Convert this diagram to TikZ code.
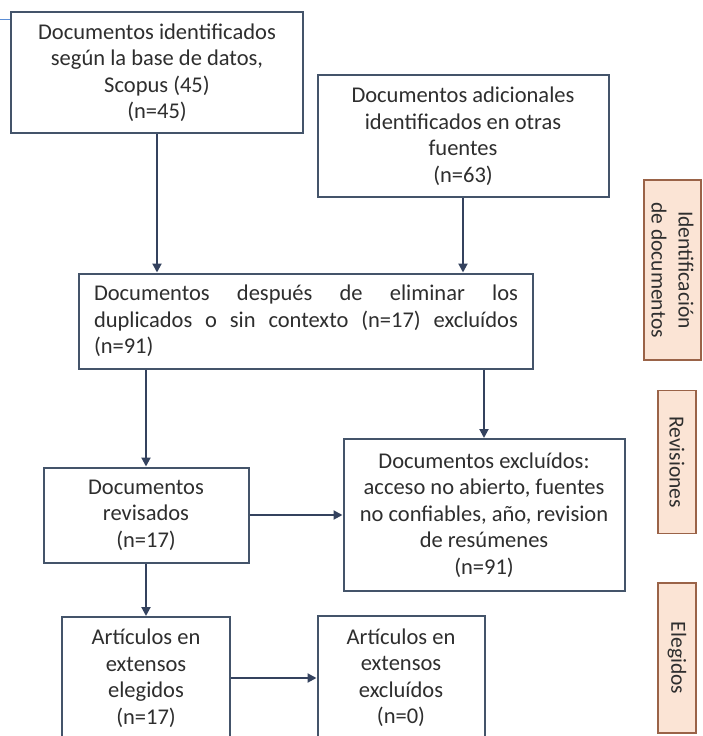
\documentclass[tikz,border=0pt]{standalone}
\usepackage{fontspec}
\setmainfont{Carlito}
\usetikzlibrary{arrows.meta}
\definecolor{boxline}{HTML}{44546A}
\definecolor{arrc}{HTML}{34425E}
\definecolor{txt}{HTML}{2E2E2E}
\definecolor{peach}{HTML}{FBE4D5}
\definecolor{peachline}{HTML}{9A6348}
\definecolor{topblue}{HTML}{5B8ED6}
\begin{document}
\begin{tikzpicture}[x=1pt,y=-1pt,
  box/.style={draw=boxline, line width=2pt, fill=white, text=txt, align=center, inner sep=0pt,
    font=\fontsize{22.5}{26.5}\selectfont},
  side/.style={draw=peachline, line width=1.6pt, fill=peach, text=txt, align=center, inner sep=0pt,
    rotate=-90, font=\fontsize{21.5}{27}\selectfont},
  arr/.style={draw=arrc, line width=2pt, -{Triangle[length=9pt,width=9pt]}}]
\clip (0,0) rectangle (703,736);
\fill[white] (0,0) rectangle (703,736);
\coordinate (tl) at (0,19.5);
\node[box, minimum width=292pt, minimum height=121pt] (a) at (157,72.5)
  {Documentos identificados\\según la base de datos,\\Scopus (45)\\(n=45)};
\draw[topblue, line width=1.2pt] (tl) -- (tl -| a.west);
\node[box, minimum width=291pt, minimum height=122pt] (b) at (463,136)
  {Documentos adicionales\\identificados en otras\\fuentes\\(n=63)};
\node[box, minimum width=454pt, minimum height=95pt, align=left] (c) at (306,321)
  {\makebox[424pt][s]{Documentos después de eliminar los}\\
   \makebox[424pt][s]{duplicados o sin contexto (n=17) excluídos}\\
   (n=91)};
\node[box, minimum width=205pt, minimum height=95pt] (d) at (146,515)
  {Documentos\\revisados\\(n=17)};
\node[box, minimum width=281pt, minimum height=152pt] (e) at (484,515)
  {Documentos excluídos:\\acceso no abierto, fuentes\\no confiables, año, revision\\de resúmenes\\(n=91)};
\node[box, minimum width=168pt, minimum height=122pt] (f) at (146,678)
  {Artículos en\\extensos\\elegidos\\(n=17)};
\node[box, minimum width=167pt, minimum height=123pt] (g) at (401,677.5)
  {Artículos en\\extensos\\excluídos\\(n=0)};
\node[side, minimum width=180pt, minimum height=57pt] (s1) at (672.5,270)
  {Identificación\\de documentos};
\node[side, minimum width=143pt, minimum height=38pt] (s2) at (677,462)
  {Revisiones};
\node[side, minimum width=150pt, minimum height=38pt] (s3) at (677,658)
  {Elegidos};
\draw[arr] (a.south) -- (a.south |- c.north);
\draw[arr] (b.south) -- (b.south |- c.north);
\draw[arr] (c.south -| d.north) -- (d.north);
\draw[arr] (c.south -| e.north) -- (e.north);
\draw[arr] (d.east) -- (d.east -| e.west);
\draw[arr] (d.south -| f.north) -- (f.north);
\draw[arr] (f.east) -- (f.east -| g.west);
\end{tikzpicture}
\end{document}
